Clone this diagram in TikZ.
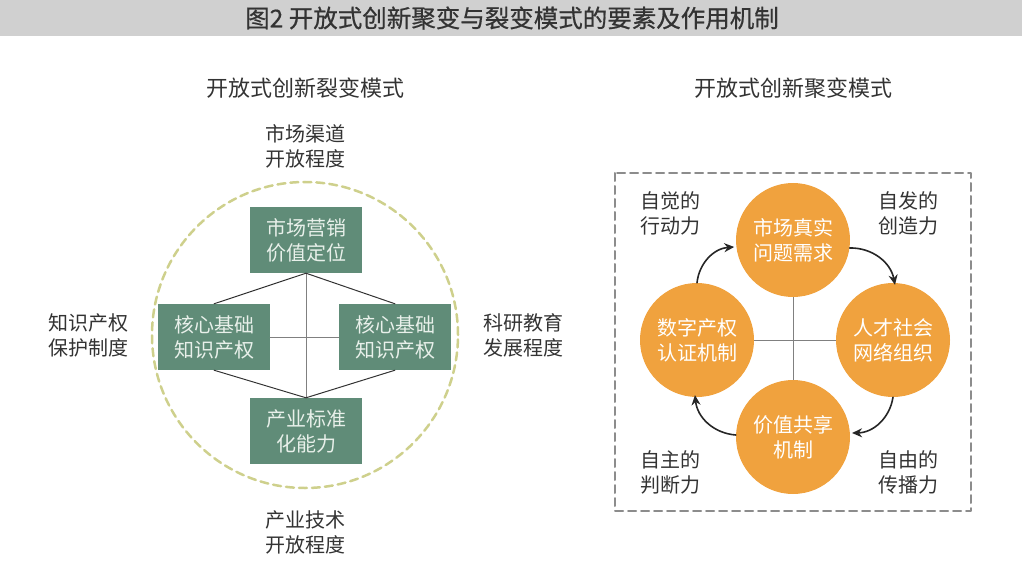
\documentclass[tikz,border=0pt]{standalone}
\usepackage{fontspec}
\setmainfont{Noto Sans CJK SC}
\newfontfamily\headfont{Noto Sans CJK SC}[FakeBold=0.6]
\usetikzlibrary{arrows.meta}
\definecolor{bargray}{RGB}{208,208,208}
\definecolor{inkgray}{RGB}{51,51,51}
\definecolor{boxgreen}{RGB}{96,140,120}
\definecolor{boxtext}{RGB}{232,240,234}
\definecolor{ringgreen}{RGB}{206,208,140}
\definecolor{ballorange}{RGB}{240,162,62}
\definecolor{framegray}{RGB}{140,140,140}
\tikzset{
  greenbox/.style={fill=boxgreen, text=boxtext, minimum width=112pt, minimum height=66pt, align=center},
  orangeball/.style={circle, fill=ballorange, text=white, minimum size=114pt, inner sep=0pt, align=center},
  lbl/.style={text=inkgray, align=center},
  cycarrow/.style={->, line width=1.6pt, draw=black!85},
}
\begin{document}
\begin{tikzpicture}[x=1pt,y=-1pt,>={Stealth[length=10pt,width=9pt]}, line join=round, line cap=round, font=\fontsize{20}{25}\selectfont]
				\useasboundingbox (0,0) rectangle (1022,588);
				% title bar
				\fill[bargray] (0,0) rectangle (1022,36);
				\node[text=inkgray, font=\headfont\fontsize{24.5}{24}\selectfont] (fig) at (512,18) {图2\ 开放式创新聚变与裂变模式的要素及作用机制};
				% left: fission mode
				\def\cx{305} \def\cy{335}
				\node[lbl, font=\fontsize{22}{22}\selectfont] (lt) at (\cx,88) {开放式创新裂变模式};
				\draw[ringgreen, line width=2.5pt, dash pattern=on 8pt off 5pt] (\cx,\cy) circle (153pt);
				\node[greenbox] (mkt) at (306,240) {市场营销\\价值定位};
				\node[greenbox] (ipl) at (214,337) {核心基础\\知识产权};
				\node[greenbox] (ipr) at (395,337) {核心基础\\知识产权};
				\node[greenbox] (std) at (306,431) {产业标准\\化能力};
				\draw[gray, line width=1pt] (mkt.south) -- (std.north);
				\draw[gray, line width=1pt] (ipl.east) -- (ipr.west);
				\draw[black!80, line width=1pt] (ipl.north) -- (mkt.south) -- (ipr.north);
				\draw[black!80, line width=1pt] (ipl.south) -- (std.north) -- (ipr.south);
				\node[lbl] (chan) at (\cx,146) {市场渠道\\开放程度};
				\node[lbl] (prot) at (88,335) {知识产权\\保护制度};
				\node[lbl] (edu) at (523,335) {科研教育\\发展程度};
				\node[lbl] (tech) at (\cx,532) {产业技术\\开放程度};
				% right: fusion mode
				\node[lbl, font=\fontsize{22}{22}\selectfont] (rt) at (793,88) {开放式创新聚变模式};
				\draw[framegray, line width=2pt, dash pattern=on 8pt off 5pt] (615,173) rectangle (971,511);
				\coordinate (hub) at (793,340);
				\draw[gray, line width=1pt] ([yshift=-57pt]hub) -- ([yshift=57pt]hub);
				\draw[gray, line width=1pt] ([xshift=-57pt]hub) -- ([xshift=57pt]hub);
				\node[orangeball] (need) at (793,240) {市场真实\\问题需求};
				\node[orangeball] (talent) at (893,340) {人才社会\\网络组织};
				\node[orangeball] (value) at (793,437) {价值共享\\机制};
				\node[orangeball] (digit) at (697,340) {数字产权\\认证机制};
				\draw[cycarrow] (need.-8) to[bend left=40] ([yshift=-2pt]talent.88);
				\draw[cycarrow] (talent.-90) to[bend left=40] ([xshift=2pt]value.4);
				\draw[cycarrow] (value.178) to[bend left=40] ([yshift=2pt]digit.-92);
				\draw[cycarrow] (digit.90) to[bend left=40] ([xshift=-2pt]need.187);
				\node[lbl] (cA) at (670,213) {自觉的\\行动力};
				\node[lbl] (cB) at (908,213) {自发的\\创造力};
				\node[lbl] (cC) at (670,472) {自主的\\判断力};
				\node[lbl] (cD) at (908,472) {自由的\\传播力};
\end{tikzpicture}
\end{document}
